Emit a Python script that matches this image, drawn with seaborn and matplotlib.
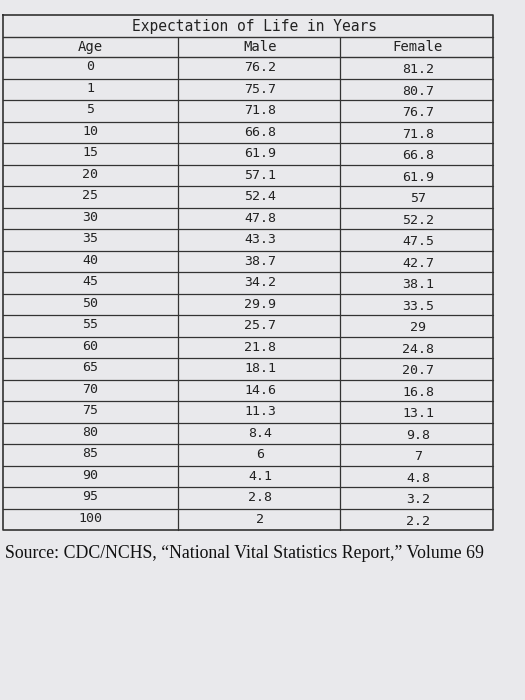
import matplotlib
matplotlib.use("Agg")
import matplotlib.pyplot as plt
import seaborn as sns

ages = ["0", "1", "5", "10", "15", "20", "25", "30", "35", "40", "45", "50",
        "55", "60", "65", "70", "75", "80", "85", "90", "95", "100"]
male = ["76.2", "75.7", "71.8", "66.8", "61.9", "57.1", "52.4", "47.8", "43.3", "38.7", "34.2",
        "29.9", "25.7", "21.8", "18.1", "14.6", "11.3", "8.4", "6", "4.1", "2.8", "2"]
female = ["81.2", "80.7", "76.7", "71.8", "66.8", "61.9", "57", "52.2", "47.5", "42.7", "38.1",
          "33.5", "29", "24.8", "20.7", "16.8", "13.1", "9.8", "7", "4.8", "3.2", "2.2"]
headers = ["Age", "Male", "Female"]
title = "Expectation of Life in Years"
source = "Source: CDC/NCHS, \u201cNational Vital Statistics Report,\u201d Volume 69"

sns.set_style("white")
fig = plt.figure(figsize=(5.25, 7), dpi=100)
fig.patch.set_facecolor("#e9e9ec")
ax = fig.add_axes([0, 0, 1, 1])
ax.set_xlim(0, 525)
ax.set_ylim(700, 0)
ax.axis("off")

left, right = 3, 493
cols = [3, 178, 340, 493]
top, title_bot, head_bot, bottom = 15, 37, 57, 530
row_h = (bottom - head_bot) / len(ages)
lc = "#333333"
mono = "DejaVu Sans Mono"

# outer frame and horizontal lines
ax.plot([left, right, right, left, left], [top, top, bottom, bottom, top], color=lc, lw=1.2)
ax.plot([left, right], [title_bot, title_bot], color=lc, lw=1)
ax.plot([left, right], [head_bot, head_bot], color=lc, lw=1)
for i in range(1, len(ages)):
    y = head_bot + i * row_h
    ax.plot([left, right], [y, y], color=lc, lw=0.9)
for x in cols[1:-1]:
    ax.plot([x, x], [title_bot, bottom], color=lc, lw=0.9)

ax.text(255, (top + title_bot) / 2, title, ha="center", va="center",
        family=mono, fontsize=10.5, color="#222222")
centers = [90, 260, 418]
for cx, h in zip(centers, headers):
    ax.text(cx, (title_bot + head_bot) / 2, h, ha="center", va="center",
            family=mono, fontsize=10, color="#222222")
for i, (a, m, f) in enumerate(zip(ages, male, female)):
    y = head_bot + (i + 0.5) * row_h
    ax.text(centers[0], y - 1, a, ha="center", va="center", family=mono, fontsize=9.5, color="#222222")
    ax.text(centers[1], y, m, ha="center", va="center", family=mono, fontsize=9.5, color="#222222")
    ax.text(centers[2], y + 2, f, ha="center", va="center", family=mono, fontsize=9.5, color="#222222")

ax.text(5, 553, source, ha="left", va="center", family="Liberation Serif",
        fontsize=12.8, color="#111111")

fig.savefig("out.png", dpi=100, facecolor=fig.get_facecolor())
